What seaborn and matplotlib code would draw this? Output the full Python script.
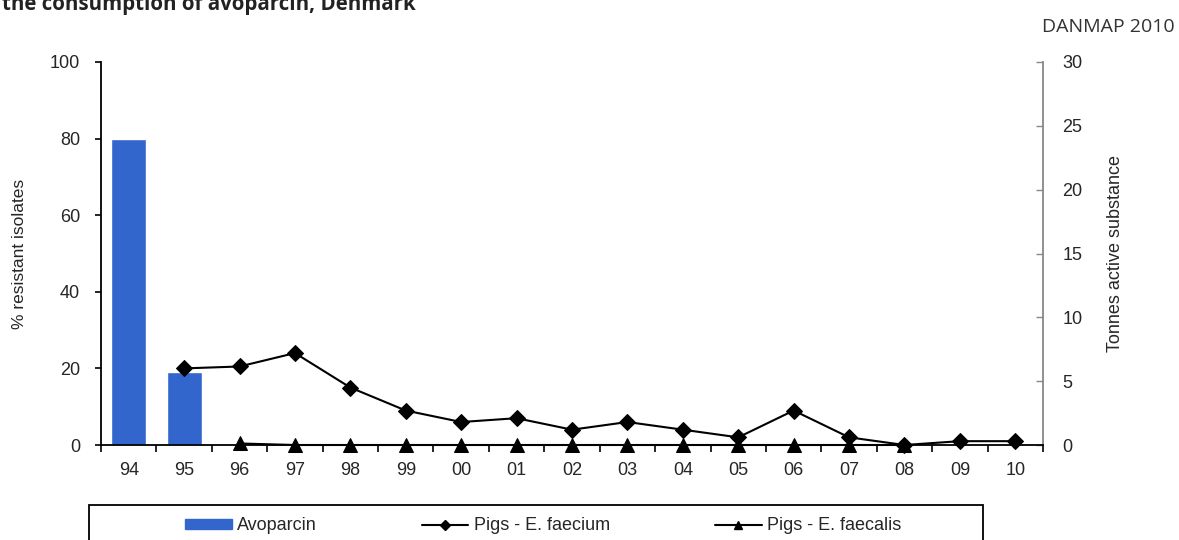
import numpy as np
import pandas as pd
import matplotlib
matplotlib.use("Agg")
import matplotlib.pyplot as plt
from matplotlib.lines import Line2D
from matplotlib.patches import Patch, Rectangle
import seaborn as sns

# ---------------- data ----------------
years = ["94", "95", "96", "97", "98", "99", "00", "01", "02", "03",
         "04", "05", "06", "07", "08", "09", "10"]

avoparcin_years = ["94", "95"]
avoparcin_tonnes = [24.0, 5.7]

faecium_years = ["95", "96", "97", "98", "99", "00", "01", "02", "03",
                 "04", "05", "06", "07", "08", "09", "10"]
faecium_pct = [20, 20.5, 24, 15, 9, 6, 7, 4, 6, 4, 2, 9, 2, 0, 1, 1]

faecalis_years = ["96", "97", "98", "99", "00", "01", "02", "03",
                  "04", "05", "06", "07", "08"]
faecalis_pct = [0.4, 0, 0, 0, 0, 0, 0, 0, 0, 0, 0, 0, 0]

left_ticks = [0, 20, 40, 60, 80, 100]
right_ticks = [0, 5, 10, 15, 20, 25, 30]

title_text = "the consumption of avoparcin, Denmark"
source_text = "DANMAP 2010"
ylabel_left = "% resistant isolates"
ylabel_right = "Tonnes active substance"
legend_labels = ["Avoparcin", "Pigs - E. faecium", "Pigs - E. faecalis"]

# ---------------- style ----------------
sns.set_theme(style="white")
plt.rcParams["font.family"] = ["Liberation Sans", "DejaVu Sans"]

W, H = 1179, 540
X0, X1, Y0, Y1 = 101, 1043, 445, 62
fig = plt.figure(figsize=(W / 100, H / 100), dpi=100)
ax = fig.add_axes([X0 / W, 1 - Y0 / H, (X1 - X0) / W, (Y0 - Y1) / H])
ax2 = ax.twinx()

bar_color = "#3366CC"

# bars (tonnes) on right axis
df_bar = pd.DataFrame({"year": avoparcin_years, "tonnes": avoparcin_tonnes})
sns.barplot(data=df_bar, x="year", y="tonnes", order=years, color=bar_color,
            saturation=1, width=0.63, ax=ax2)

# lines on left axis (positions from category order)
pos = {y: i for i, y in enumerate(years)}
df_fm = pd.DataFrame({"x": [pos[y] for y in faecium_years], "pct": faecium_pct})
df_fs = pd.DataFrame({"x": [pos[y] for y in faecalis_years], "pct": faecalis_pct})
sns.lineplot(data=df_fs, x="x", y="pct", ax=ax, color="black", lw=1.5,
             marker="^", markersize=10, markeredgecolor="black", zorder=4,
             clip_on=False)
sns.lineplot(data=df_fm, x="x", y="pct", ax=ax, color="black", lw=1.5,
             marker="D", markersize=8, markeredgecolor="black", zorder=5,
             clip_on=False)

ax.set_zorder(ax2.get_zorder() + 1)
ax.patch.set_visible(False)

# axes limits
ax.set_xlim(-0.5, len(years) - 0.5)
ax2.set_xlim(-0.5, len(years) - 0.5)
ax.set_ylim(0, 100)
ax2.set_ylim(0, 30)

# left axis
ax.set_yticks(left_ticks)
ax.set_yticklabels([str(t) for t in left_ticks], fontsize=13)
ax.tick_params(axis="y", which="major", direction="out", length=4, width=1.2,
               color="black", left=True, pad=11)
ax.set_ylabel(ylabel_left, fontsize=12.5)
ax.yaxis.set_label_coords((27 - X0) / (X1 - X0), 0.5)

# x axis: labels centered, ticks at boundaries
ax.set_xticks(range(len(years)))
ax.set_xticklabels(years, fontsize=13)
ax.set_xticks(np.arange(-0.5, len(years), 1.0), minor=True)
ax.tick_params(axis="x", which="major", length=0, pad=12, bottom=False)
ax.tick_params(axis="x", which="minor", direction="out", length=5, width=1.2,
               color="black", bottom=True)
ax.set_xlabel("")
ax2.set_xlabel("")

# right axis
ax2.set_yticks(right_ticks)
ax2.set_yticklabels([str(t) for t in right_ticks], fontsize=13)
ax2.tick_params(axis="y", which="major", direction="in", length=5, width=1,
                color="#888888", right=True, pad=14)
ax2.set_ylabel(ylabel_right, fontsize=13)
ax2.yaxis.set_label_coords((1107 - X0) / (X1 - X0), 0.5)

for a in (ax, ax2):
    a.spines["top"].set_visible(False)
ax.spines["right"].set_visible(False)
ax2.spines["left"].set_visible(False)
ax2.spines["bottom"].set_visible(False)
ax.spines["left"].set_color("black")
ax.spines["left"].set_linewidth(1.3)
ax.spines["bottom"].set_color("black")
ax.spines["bottom"].set_linewidth(1.3)
ax2.spines["right"].set_color("#888888")
ax2.spines["right"].set_linewidth(1.3)
ax.grid(False)
ax2.grid(False)

# texts
fig.text(2 / W, 1 - 10 / H, title_text, fontsize=14.8, fontweight="bold",
         family=["Open Sans", "DejaVu Sans"], color="#222222", va="baseline", ha="left")
fig.text(1175 / W, 1 - 32 / H, source_text, fontsize=14,
         family=["Open Sans", "DejaVu Sans"], color="#333333", va="baseline", ha="right")

# legend box
fig.patches.append(Rectangle((89 / W, -0.05), (983 - 89) / W, (1 - 505 / H) + 0.05,
                             transform=fig.transFigure, fill=False,
                             edgecolor="black", lw=1.3))
handles = [
    Patch(facecolor=bar_color, edgecolor=bar_color),
    Line2D([], [], color="black", lw=1.5, marker="D", markersize=5),
    Line2D([], [], color="black", lw=1.5, marker="^", markersize=6),
]
fig.legend(handles, legend_labels, loc="center", ncol=3,
           bbox_to_anchor=(543 / W, 1 - 526 / H), frameon=False, fontsize=13,
           handlelength=2.6, handletextpad=0.3, columnspacing=5.8,
           handleheight=0.5)

fig.savefig("out.png", dpi=100)
